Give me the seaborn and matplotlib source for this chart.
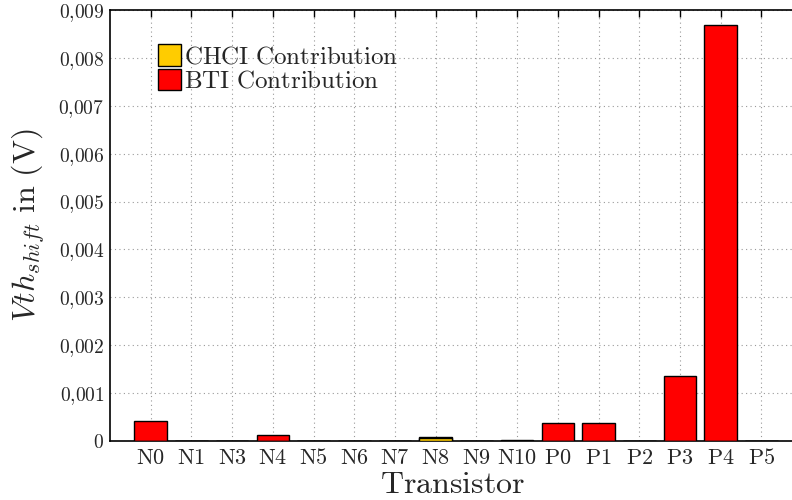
import matplotlib
matplotlib.use("Agg")
import matplotlib.pyplot as plt
import seaborn as sns
import pandas as pd
from matplotlib.patches import Patch
from matplotlib.ticker import FixedLocator

transistors = ["N0", "N1", "N3", "N4", "N5", "N6", "N7", "N8", "N9", "N10",
               "P0", "P1", "P2", "P3", "P4", "P5"]
chci = [0.0, 0.0, 0.0, 0.0, 0.0, 0.0, 0.0, 0.00007, 0.0, 0.0,
        0.0, 0.0, 0.0, 0.0, 0.0, 0.0]
bti = [0.00041, 0.000004, 0.000008, 0.000125, 0.000008, 0.000004, 0.000004, 0.000006, 0.000004, 0.000018,
       0.00038, 0.00038, 0.000004, 0.001365, 0.00868, 0.000004]
yticks = [0, 0.001, 0.002, 0.003, 0.004, 0.005, 0.006, 0.007, 0.008, 0.009]
ytick_labels = ["0", "0,001", "0,002", "0,003", "0,004", "0,005", "0,006", "0,007", "0,008", "0,009"]

sns.set_style("white")
plt.rcParams["mathtext.fontset"] = "cm"
plt.rcParams["font.family"] = ["DejaVu Serif"]

df = pd.DataFrame({"Transistor": transistors, "CHCI": chci, "BTI": bti})
df["Total"] = df["CHCI"] + df["BTI"]

fig = plt.figure(figsize=(7.92, 5.0), dpi=100)
ax = fig.add_axes([110 / 792, 59 / 500, 1.005 - 110 / 792, 431 / 500])

yellow = "#FFCC00"
red = "#FF0000"
sns.barplot(data=df, x="Transistor", y="Total", order=transistors, color=red,
            saturation=1, width=0.8, edgecolor="black", linewidth=1.0, ax=ax, zorder=3)
sns.barplot(data=df, x="Transistor", y="CHCI", order=transistors, color=yellow,
            saturation=1, width=0.8, edgecolor="black", linewidth=1.0, ax=ax, zorder=4)

ax.set_xlim(-1.0, 15.85)
ax.set_ylim(0, 0.009)
ax.yaxis.set_major_locator(FixedLocator(yticks))
ax.set_yticklabels(["$" + t.replace(",", "{,}") + "$" for t in ytick_labels], fontsize=14)
ax.set_xticks(range(len(transistors)))
ax.set_xticklabels(["$\\mathrm{" + t + "}$" for t in transistors], fontsize=16)

ax.grid(True, color="#999999", linestyle=(0, (1, 3)), linewidth=0.8, zorder=0)
ax.set_axisbelow(True)
ax.tick_params(axis="both", direction="in", length=5, width=1, color="black",
               top=True, right=False, pad=4)
for s in ["left", "top", "bottom"]:
    ax.spines[s].set_visible(True)
    ax.spines[s].set_color("black")
    ax.spines[s].set_linewidth(1.2)
ax.spines["right"].set_visible(False)

ax.set_xlabel("$\\mathrm{Transistor}$", fontsize=23, labelpad=0)
ax.set_ylabel("$Vth_{shift}\\ \\mathrm{in\\ (V)}$", fontsize=23, labelpad=8)

handles = [Patch(facecolor=yellow, edgecolor="black", linewidth=1.0, label="$\\mathrm{CHCI\\ Contribution}$"),
           Patch(facecolor=red, edgecolor="black", linewidth=1.0, label="$\\mathrm{BTI\\ Contribution}$")]
ax.legend(handles=handles, loc="upper left", bbox_to_anchor=(0.055, 0.944), frameon=False,
          fontsize=18, handlelength=0.95, handleheight=0.95, handletextpad=0.1,
          labelspacing=0.0, borderaxespad=0)

fig.savefig("out.png", dpi=100)
